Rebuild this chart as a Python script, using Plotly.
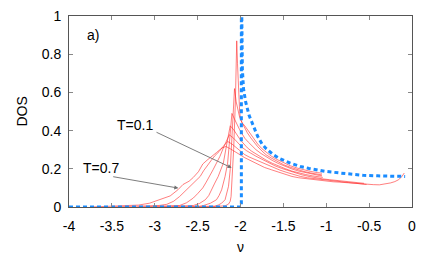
import plotly.graph_objects as go

# ---- data ----
temps = ["T=0.1", "T=0.2", "T=0.3", "T=0.4", "T=0.5", "T=0.6", "T=0.7"]

nu_T01 = [-2.4, -2.25, -2.18, -2.14, -2.12, -2.11, -2.09, -2.08, -2.06, -2.044, -2.035, -2.02, -2.01, -2.0,
          -1.98, -1.95, -1.92, -1.88, -1.84, -1.8, -1.75, -1.7, -1.64, -1.58, -1.5, -1.42, -1.34, -1.26,
          -1.18, -1.1, -1.05]
dos_T01 = [0.0, 0.002, 0.006, 0.015, 0.03, 0.055, 0.195, 0.3, 0.55, 0.87, 0.75, 0.58, 0.5, 0.46,
           0.44, 0.425, 0.405, 0.38, 0.355, 0.33, 0.305, 0.285, 0.266, 0.25, 0.232, 0.216, 0.204, 0.194,
           0.186, 0.18, 0.177]

nu_T02 = [-2.6, -2.4, -2.3, -2.26, -2.22, -2.18, -2.16, -2.14, -2.12, -2.1, -2.07, -2.05, -2.03, -2.01,
          -1.98, -1.95, -1.92, -1.88, -1.84, -1.8, -1.75, -1.7, -1.64, -1.58, -1.5, -1.42, -1.34, -1.26,
          -1.18, -1.1, -1.05]
dos_T02 = [0.0, 0.002, 0.005, 0.01, 0.02, 0.038, 0.07, 0.108, 0.195, 0.4, 0.62, 0.55, 0.5, 0.47,
           0.44, 0.412, 0.388, 0.362, 0.338, 0.316, 0.293, 0.273, 0.256, 0.24, 0.222, 0.208, 0.196, 0.186,
           0.178, 0.172, 0.168]

nu_T03 = [-2.8, -2.6, -2.48, -2.43, -2.35, -2.28, -2.25, -2.22, -2.2, -2.18, -2.15, -2.12, -2.1, -2.07,
          -2.04, -2.01, -1.98, -1.95, -1.91, -1.87, -1.82, -1.76, -1.7, -1.63, -1.56, -1.48, -1.4, -1.32,
          -1.24, -1.16, -1.08, -1.05]
dos_T03 = [0.0, 0.002, 0.004, 0.008, 0.02, 0.038, 0.06, 0.09, 0.125, 0.16, 0.23, 0.37, 0.49, 0.46,
           0.43, 0.405, 0.382, 0.36, 0.34, 0.32, 0.3, 0.28, 0.262, 0.244, 0.228, 0.212, 0.199, 0.188,
           0.179, 0.171, 0.165, 0.163]

nu_T04 = [-3.0, -2.8, -2.65, -2.55, -2.48, -2.41, -2.37, -2.34, -2.3, -2.26, -2.23, -2.2, -2.16, -2.12,
          -2.08, -2.04, -2.0, -1.96, -1.92, -1.87, -1.82, -1.76, -1.7, -1.63, -1.56, -1.48, -1.4, -1.32,
          -1.24, -1.16, -1.08, -1.04]
dos_T04 = [0.0, 0.002, 0.004, 0.008, 0.018, 0.038, 0.06, 0.09, 0.125, 0.16, 0.195, 0.23, 0.33, 0.425,
           0.405, 0.375, 0.35, 0.33, 0.31, 0.292, 0.277, 0.26, 0.245, 0.229, 0.215, 0.201, 0.188, 0.178,
           0.17, 0.163, 0.157, 0.155]

nu_T05 = [-3.2, -3.0, -2.85, -2.71, -2.63, -2.55, -2.5, -2.44, -2.4, -2.36, -2.32, -2.28, -2.24, -2.19,
          -2.13, -2.08, -2.03, -1.98, -1.93, -1.88, -1.82, -1.75, -1.68, -1.6, -1.52, -1.44, -1.36, -1.28,
          -1.2, -1.12, -1.04, -0.96, -0.88, -0.8, -0.72, -0.64, -0.56]
dos_T05 = [0.0, 0.002, 0.004, 0.008, 0.022, 0.047, 0.07, 0.1, 0.13, 0.16, 0.195, 0.23, 0.265, 0.32,
           0.378, 0.36, 0.335, 0.312, 0.295, 0.28, 0.266, 0.25, 0.234, 0.216, 0.202, 0.19, 0.178, 0.168,
           0.16, 0.153, 0.147, 0.143, 0.139, 0.135, 0.131, 0.127, 0.124]

nu_T06 = [-3.5, -3.3, -3.1, -2.95, -2.86, -2.78, -2.71, -2.65, -2.59, -2.53, -2.47, -2.43, -2.39, -2.34,
          -2.3, -2.25, -2.2, -2.15, -2.1, -2.05, -2.0, -1.95, -1.9, -1.84, -1.78, -1.7, -1.62, -1.54,
          -1.46, -1.38, -1.3, -1.22, -1.14, -1.06, -0.98, -0.9, -0.82, -0.74, -0.66, -0.58, -0.53]
dos_T06 = [0.0, 0.002, 0.004, 0.008, 0.014, 0.03, 0.055, 0.08, 0.108, 0.13, 0.16, 0.19, 0.212, 0.245,
           0.268, 0.29, 0.318, 0.343, 0.33, 0.31, 0.29, 0.274, 0.262, 0.25, 0.238, 0.222, 0.206, 0.193,
           0.181, 0.169, 0.16, 0.153, 0.148, 0.143, 0.139, 0.135, 0.132, 0.128, 0.124, 0.12, 0.118]

nu_T07 = [-3.75, -3.6, -3.45, -3.3, -3.19, -3.06, -2.94, -2.82, -2.73, -2.67, -2.6, -2.55, -2.49, -2.44,
          -2.39, -2.34, -2.28, -2.22, -2.17, -2.12, -2.06, -2.0, -1.95, -1.9, -1.85, -1.8, -1.72, -1.64,
          -1.56, -1.48, -1.4, -1.32, -1.24, -1.16, -1.08, -1.0, -0.92, -0.84, -0.76, -0.68, -0.6, -0.52,
          -0.45, -0.38, -0.31, -0.25, -0.2, -0.16, -0.12, -0.09]
dos_T07 = [0.0, 0.002, 0.004, 0.006, 0.01, 0.02, 0.038, 0.058, 0.09, 0.118, 0.135, 0.155, 0.185, 0.225,
           0.245, 0.262, 0.285, 0.308, 0.317, 0.305, 0.29, 0.272, 0.258, 0.246, 0.234, 0.222, 0.207, 0.195,
           0.182, 0.171, 0.16, 0.153, 0.148, 0.143, 0.138, 0.135, 0.132, 0.13, 0.127, 0.124, 0.12, 0.117,
           0.117, 0.116, 0.12, 0.126, 0.133, 0.142, 0.158, 0.178]

nu_free = [-4.0, -1.99, -1.99, -1.985, -1.978, -1.965, -1.94, -1.9, -1.85, -1.8, -1.75, -1.7, -1.62,
           -1.55, -1.42, -1.3, -1.2, -1.0, -0.84, -0.7, -0.57, -0.4, -0.25, -0.08]
dos_free = [0.0, 0.0, 1.2, 0.9, 0.72, 0.62, 0.55, 0.48, 0.42, 0.37, 0.33, 0.305, 0.275,
            0.255, 0.23, 0.212, 0.202, 0.186, 0.178, 0.172, 0.166, 0.163, 0.161, 0.16]

x_tickvals = [-4, -3.5, -3, -2.5, -2, -1.5, -1, -0.5, 0]
x_ticktext = ["-4", "-3.5", "-3", "-2.5", "-2", "-1.5", "-1", "-0.5", "0"]
y_tickvals = [0, 0.2, 0.4, 0.6, 0.8, 1]
y_ticktext = ["0", "0.2", "0.4", "0.6", "0.8", "1"]

red_curves = [(nu_T01, dos_T01), (nu_T02, dos_T02), (nu_T03, dos_T03), (nu_T04, dos_T04),
              (nu_T05, dos_T05), (nu_T06, dos_T06), (nu_T07, dos_T07)]

FONT = "Liberation Sans, Arial, Helvetica, sans-serif"

fig = go.Figure()
for name, (xs, ys) in zip(temps, red_curves):
    fig.add_trace(go.Scatter(x=xs, y=ys, mode="lines", name=name,
                             line=dict(color="rgba(255,40,40,0.75)", width=0.8)))

fig.add_trace(go.Scatter(x=nu_free, y=dos_free, mode="lines", name="free",
                         line=dict(color="#1a8cff", width=3, dash="4px,3px")))

axis_common = dict(showline=True, mirror="ticks", linecolor="#555555", linewidth=1,
                   ticks="inside", ticklen=4, tickcolor="#888888", showgrid=False,
                   zeroline=False, automargin=False,
                   tickfont=dict(family=FONT, size=14, color="black"))

fig.update_xaxes(range=[-4, 0], tickvals=x_tickvals, ticktext=x_ticktext,
                 title=dict(text="ν", font=dict(family=FONT, size=14, color="black"), standoff=9),
                 ticklabelstandoff=6, **axis_common)
fig.update_yaxes(range=[0, 1], tickvals=y_tickvals, ticktext=y_ticktext,
                 ticklabelstandoff=4, **axis_common)

ann_font = dict(family=FONT, size=14, color="black")
fig.add_annotation(xref="paper", yref="paper", x=-0.169, y=0.5, text="DOS", textangle=-90,
                   showarrow=False, font=ann_font)
fig.add_annotation(x=-3.726, y=0.90, text="a)", showarrow=False, font=ann_font)
fig.add_annotation(x=-3.23, y=0.43, text=temps[0], showarrow=False, font=ann_font)
fig.add_annotation(x=-3.627, y=0.205, text=temps[-1], showarrow=False, font=ann_font)
arrow_style = dict(text="", showarrow=True, arrowhead=2, arrowsize=0.9, arrowwidth=0.9,
                   arrowcolor="#6e6e6e", axref="x", ayref="y", standoff=0, startstandoff=0)
fig.add_annotation(x=-2.103, y=0.205, ax=-2.997, ay=0.395, **arrow_style)
fig.add_annotation(x=-2.725, y=0.099, ax=-3.502, ay=0.16, **arrow_style)

fig.update_layout(width=436, height=262, margin=dict(l=69, r=24, t=16, b=55),
                  plot_bgcolor="white", paper_bgcolor="white", showlegend=False,
                  font=dict(family=FONT, size=14, color="black"))

fig.write_html("out.html", config={"displayModeBar": False},
               post_script="document.body.style.margin='0';")
